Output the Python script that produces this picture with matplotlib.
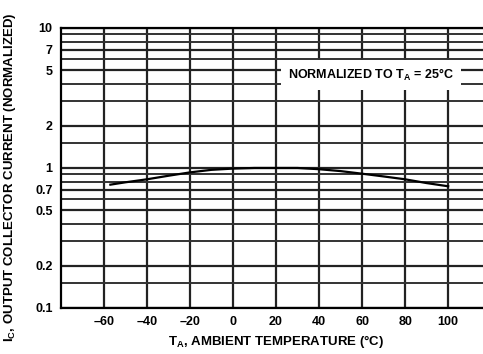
import numpy as np
import matplotlib.pyplot as plt
from matplotlib.ticker import FixedLocator, NullFormatter

plt.rcParams['font.family'] = ['Liberation Sans', 'DejaVu Sans']

# curve
temp = [-57, -50, -40, -30, -20, -10, 0, 10, 20, 30, 40, 50, 60, 70, 80, 90, 100]
current = [0.76, 0.79, 0.83, 0.88, 0.93, 0.97, 0.99, 1.0, 1.0, 1.0, 0.98, 0.95, 0.91, 0.87, 0.83, 0.78, 0.74]

x_ticks = [-60, -40, -20, 0, 20, 40, 60, 80, 100]
y_ticks = [0.1, 0.2, 0.5, 0.7, 1, 2, 5, 7, 10]
y_tick_labels = ['0.1', '0.2', '0.5', '0.7', '1', '2', '5', '7', '10']
y_grid = [0.15, 0.3, 0.4, 0.6, 0.8, 0.9, 1.5, 3, 4, 6, 8, 9]

fig = plt.figure(figsize=(4.83, 3.54), dpi=100)
ax = fig.add_axes([0.126, 0.130, 0.891, 0.791])

ax.set_yscale('log')
ax.set_xlim(-80, 120)
ax.set_ylim(0.1, 10)

ax.set_xticks(x_ticks)
ax.set_xticklabels(['\u2013' + str(-t) if t < 0 else str(t) for t in x_ticks])
ax.set_yticks(y_ticks)
ax.set_yticklabels(y_tick_labels)
ax.yaxis.set_minor_locator(FixedLocator(y_grid))
ax.yaxis.set_minor_formatter(NullFormatter())
ax.tick_params(which='both', length=0, labelsize=9)
ax.tick_params(axis='x', pad=6)
ax.tick_params(axis='y', pad=6)
for lbl in ax.get_xticklabels() + ax.get_yticklabels():
    lbl.set_fontweight('bold')

ax.grid(True, which='major', color='#222222', linewidth=1.6)
ax.grid(True, which='minor', axis='y', color='#333333', linewidth=1.4)
for sp in ax.spines.values():
    sp.set_linewidth(1.6)

ax.plot(temp, current, color='black', linewidth=1.6, zorder=3)

ax.text(64, 4.6, 'NORMALIZED TO T$_\\mathregular{A}$ = 25\u00b0C', fontsize=9,
        fontweight='bold', ha='center', va='center', zorder=4,
        bbox=dict(facecolor='white', edgecolor='none', pad=5))

ax.set_xlabel('T$_\\mathregular{A}$, AMBIENT TEMPERATURE (\u00b0C)', fontsize=9.5,
              fontweight='bold')
ax.xaxis.set_label_coords(0.5, -0.118)
ax.set_ylabel('I$_\\mathregular{C}$, OUTPUT COLLECTOR CURRENT (NORMALIZED)', fontsize=9.5,
              fontweight='bold')
ax.yaxis.set_label_coords(-0.119, 0.468)
ax.yaxis.label.set_va('center')
ax.xaxis.label.set_va('center')

plt.savefig('out.png', dpi=100)
plt.close()
